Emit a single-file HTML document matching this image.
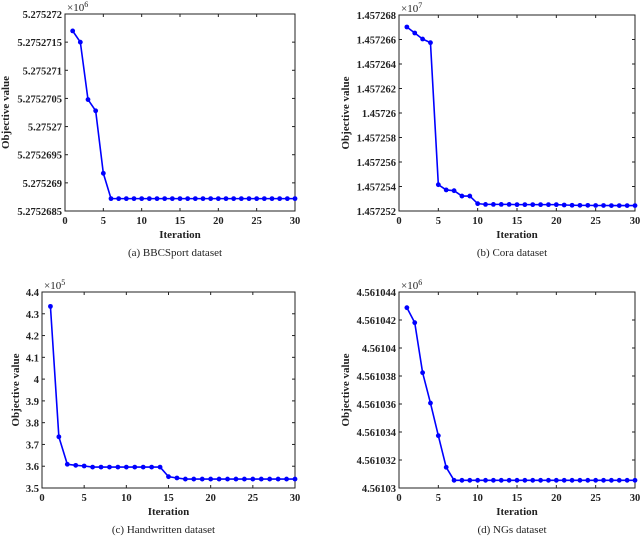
<!DOCTYPE html>
<html><head><meta charset="utf-8"><style>
body{margin:0;background:#fff;}
svg{display:block;font-family:"Liberation Serif",serif;}
.t{font-size:10.5px;font-weight:bold;fill:#222;}
.lab{font-size:11px;font-weight:bold;fill:#222;}
.cap{font-size:11px;fill:#222;}
</style></head><body>
<svg id="s" width="640" height="536"></svg>
<script>
const iters = Array.from({length:30},(_,i)=>i+1);
const xTicks = [0,5,10,15,20,25,30];
const bbcValues = [5.2752717,5.2752715,5.27527048,5.27527028,5.27526917,5.27526872,5.27526872,5.27526872,5.27526872,5.27526872,5.27526872,5.27526872,5.27526872,5.27526872,5.27526872,5.27526872,5.27526872,5.27526872,5.27526872,5.27526872,5.27526872,5.27526872,5.27526872,5.27526872,5.27526872,5.27526872,5.27526872,5.27526872,5.27526872,5.27526872];
const bbcTicks = ["5.2752685","5.275269","5.2752695","5.27527","5.2752705","5.275271","5.2752715","5.275272"];
const coraValues = [1.45726702,1.45726653,1.45726604,1.45726574,1.45725415,1.45725372,1.45725366,1.45725322,1.45725322,1.4572526,1.45725254,1.45725254,1.45725254,1.45725254,1.45725252,1.45725252,1.45725252,1.45725252,1.45725252,1.45725252,1.45725249,1.45725247,1.45725246,1.45725246,1.45725245,1.45725245,1.45725244,1.45725244,1.45725244,1.45725244];
const coraTicks = ["1.457252","1.457254","1.457256","1.457258","1.45726","1.457262","1.457264","1.457266","1.457268"];
const hwValues = [4.334,3.735,3.609,3.604,3.601,3.596,3.596,3.596,3.596,3.596,3.596,3.596,3.596,3.596,3.552,3.546,3.541,3.541,3.541,3.541,3.541,3.541,3.541,3.541,3.541,3.541,3.541,3.541,3.541,3.541];
const hwTicks = ["3.5","3.6","3.7","3.8","3.9","4","4.1","4.2","4.3","4.4"];
const ngValues = [4.56104288,4.56104181,4.56103824,4.56103607,4.56103374,4.56103148,4.56103055,4.56103055,4.56103055,4.56103055,4.56103055,4.56103055,4.56103055,4.56103055,4.56103055,4.56103055,4.56103055,4.56103055,4.56103055,4.56103055,4.56103055,4.56103055,4.56103055,4.56103055,4.56103055,4.56103055,4.56103055,4.56103055,4.56103055,4.56103055];
const ngTicks = ["4.56103","4.561032","4.561034","4.561036","4.561038","4.56104","4.561042","4.561044"];

const NS="http://www.w3.org/2000/svg";
const svg=document.getElementById('s');
function mk(tag,attrs,parent,text){const e=document.createElementNS(NS,tag);for(const k in attrs)e.setAttribute(k,attrs[k]);if(text!==undefined)e.textContent=text;(parent||svg).appendChild(e);return e;}

function chart(id,box,vals,ticks,exp,ylabX,caption){
  const g=mk('g',{});
  
  
  const [x0,y0,x1,y1]=box;
  const tv=ticks.map(Number);
  const ymin=tv[0],ymax=tv[tv.length-1];
  const X=v=>x0+(v-0)/30*(x1-x0);
  const Y=v=>y1-(v-ymin)/(ymax-ymin)*(y1-y0);
  const frame=mk('rect',{x:x0,y:y0,width:x1-x0,height:y1-y0,fill:'none',stroke:'#222','stroke-width':1},g);
  
  
  xTicks.forEach(t=>{
    const x=X(t);
    mk('line',{x1:x,x2:x,y1:y1,y2:y1-3,stroke:'#222'},g);
    mk('line',{x1:x,x2:x,y1:y0,y2:y0+3,stroke:'#222'},g);
    const l=mk('text',{x:x,y:y1+13,'text-anchor':'middle',class:'t'},g,String(t));
    
    
  });
  ticks.forEach((t,i)=>{
    const y=Y(tv[i]);
    mk('line',{x1:x0,x2:x0+3,y1:y,y2:y,stroke:'#222'},g);
    mk('line',{x1:x1,x2:x1-3,y1:y,y2:y,stroke:'#222'},g);
    const l=mk('text',{x:x0-3,y:y+4,'text-anchor':'end',class:'t'},g,t);
    
    
  });
  const e=mk('text',{x:x0+2,y:y0-3,class:'cap','font-size':'11'},g);
  
  
  e.innerHTML='×10<tspan dy="-4" font-size="8">'+exp+'</tspan>';
  const xl=mk('text',{x:(x0+x1)/2,y:y1+27,'text-anchor':'middle',class:'lab'},g,'Iteration');
  
  
  const yl=mk('text',{x:0,y:0,'text-anchor':'middle',class:'lab',transform:`translate(${ylabX},${(y0+y1)/2}) rotate(-90)`},g,'Objective value');
  
  
  const pts=vals.map((v,i)=>X(iters[i])+','+Y(v)).join(' ');
  const line=mk('polyline',{points:pts,fill:'none',stroke:'#0000ff','stroke-width':1.6},g);
  
  
  vals.forEach((v,i)=>{
    const c=mk('circle',{cx:X(iters[i]),cy:Y(v),r:2.4,fill:'#0000ff'},g);
    
    
  });
  const cp=mk('text',{x:(x0+x1)/2-5,y:y1+45,'text-anchor':'middle',class:'cap'},g,caption);
  
  
}
chart('bbcsport',[65,14,295,211],bbcValues,bbcTicks,'6',9,'(a)  BBCSport dataset');
chart('cora',[399,15,635,211],coraValues,coraTicks,'7',349,'(b)  Cora dataset');
chart('handwritten',[42,292,295,488],hwValues,hwTicks,'5',19,'(c)  Handwritten dataset');
chart('ngs',[399,292,635,488],ngValues,ngTicks,'6',349,'(d)  NGs dataset');
</script>
</body></html>
